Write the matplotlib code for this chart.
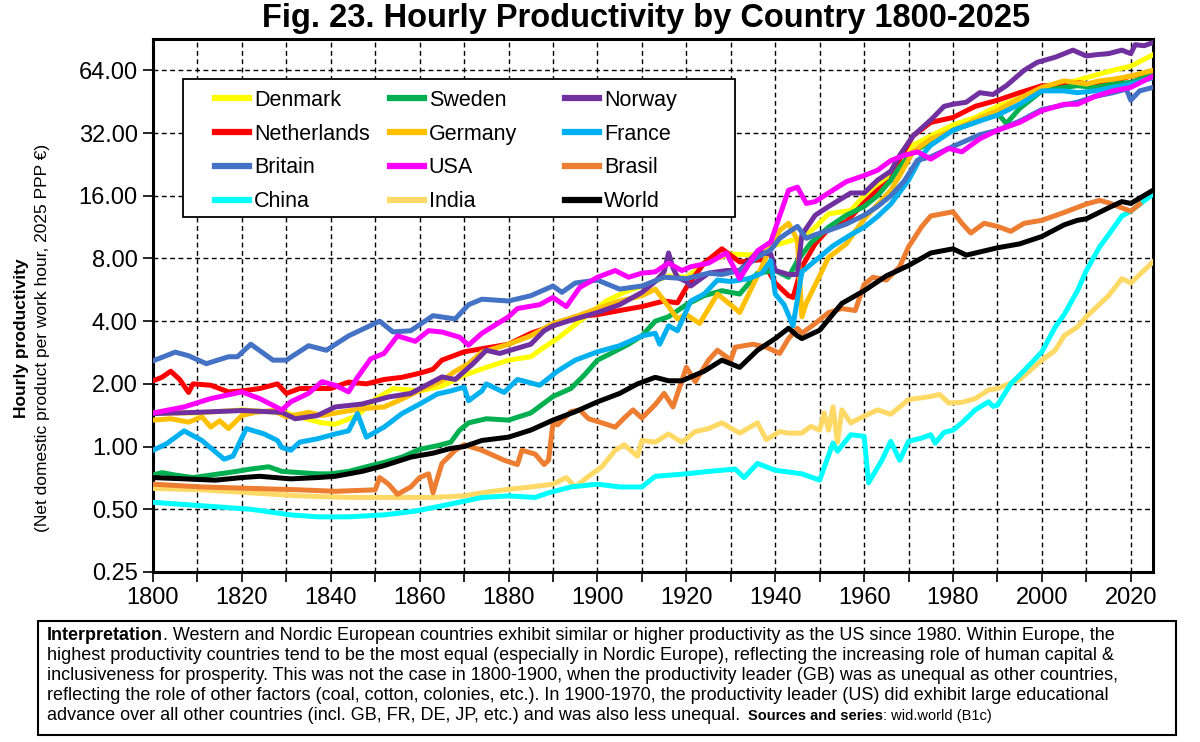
import matplotlib
matplotlib.use('Agg')
import matplotlib.pyplot as plt
from matplotlib.lines import Line2D
from matplotlib.legend import Legend
from matplotlib.patches import Rectangle
from matplotlib.ticker import NullLocator
from matplotlib import font_manager

plt.rcParams['font.family'] = ['Liberation Sans', 'DejaVu Sans']

# ---- data (hourly productivity, 2025 PPP euro) ----
denmark_yr = [1800,1810,1820,1830,1835,1838,1841,1846,1850,1854,1860,1865,1870,1875,1880,1885,1888,1891,1896,1902,1906,1912,1916,1920,1925,1930,1936,1939,1941,1944,1946,1949,1952,1957,1960,1963,1966,1968,1971,1975,1980,1985,1990,1995,2000,2005,2010,2016,2020,2025]
denmark = [1.45,1.45,1.5,1.45,1.35,1.3,1.28,1.41,1.69,1.9,1.85,1.95,2.2,2.4,2.6,2.7,3.0,3.3,4.0,5.0,5.5,6.1,6.6,6.5,7.8,8.4,8.3,9.2,9.4,9.8,10,11.3,13.1,13.6,16,17.8,20.5,23,28,31,35,38,43,47,52,55,59,64,67,76]

sweden_yr = [1800,1802,1805,1809,1813,1817,1822,1826,1829,1833,1837,1840,1844,1848,1852,1856,1860,1864,1867,1869,1871,1875,1880,1885,1890,1894,1897,1900,1903,1907,1910,1913,1916,1920,1924,1928,1932,1936,1940,1943,1945,1948,1952,1956,1960,1963,1966,1968,1971,1975,1980,1985,1990,1992,1995,2000,2005,2008,2012,2016,2020,2025]
sweden = [0.73,0.75,0.73,0.71,0.73,0.75,0.78,0.8,0.76,0.75,0.74,0.74,0.76,0.8,0.84,0.89,0.97,1.01,1.05,1.2,1.3,1.36,1.34,1.45,1.74,1.9,2.2,2.6,2.8,3.1,3.4,4.0,4.2,4.8,5.3,5.6,5.4,6.8,7.0,6.5,7.8,9.5,11.3,12.9,14.2,16,19,22,26,29,33,36,40,35.5,42,51,53,54,53,55,56,61]

norway_yr = [1800,1810,1820,1829,1832,1837,1841,1847,1853,1858,1865,1868,1872,1875,1878,1885,1888,1890,1895,1900,1905,1910,1913,1915,1916,1917,1918,1920,1921,1925,1929,1932,1936,1939,1940,1943,1945,1946,1949,1952,1957,1960,1963,1966,1968,1971,1975,1978,1980,1983,1986,1989,1992,1996,1999,2003,2007,2010,2012,2015,2018,2020,2021,2023,2025]
norway = [1.44,1.46,1.49,1.46,1.36,1.41,1.55,1.6,1.73,1.8,2.16,2.1,2.5,2.9,2.8,3.1,3.6,3.8,4.1,4.4,4.8,5.5,6.2,6.9,8.5,7.2,6.5,6.2,5.9,6.8,7.0,7.0,8.6,8.4,7.0,6.7,6.7,10.4,12.9,14.2,16.5,16.5,19,21,25,31,37,43,44,45,50,49,54,64,70,74,80,75,76,77,80,77,85,84,87]

netherlands_yr = [1800,1802,1804,1806,1808,1809,1813,1817,1820,1824,1828,1830,1833,1837,1840,1844,1848,1852,1856,1860,1863,1865,1870,1874,1880,1885,1890,1895,1900,1905,1910,1915,1918,1920,1924,1928,1932,1937,1940,1943,1944,1946,1949,1952,1956,1960,1963,1966,1968,1971,1975,1980,1985,1990,1995,2000,2005,2008,2012,2016,2020,2025]
netherlands = [2.07,2.15,2.3,2.1,1.82,2.0,1.97,1.83,1.85,1.9,2.0,1.8,1.9,1.9,1.9,2.04,2.0,2.1,2.15,2.25,2.35,2.6,2.85,2.95,3.1,3.5,3.8,4.2,4.3,4.5,4.7,5.0,4.9,5.8,7.6,8.9,7.7,7.9,6.1,5.3,5.2,7.3,9.4,11.1,12.0,14.8,17,19,24,31,36,38,43,46,50,54,54,56,54,57,60,63]

germany_yr = [1800,1804,1808,1811,1813,1815,1817,1820,1823,1827,1830,1835,1838,1842,1847,1852,1856,1860,1865,1868,1871,1874,1880,1885,1890,1895,1900,1905,1910,1913,1916,1918,1920,1923,1927,1931,1932,1936,1939,1941,1943,1945,1946,1947,1950,1952,1956,1960,1963,1966,1968,1971,1975,1980,1985,1990,1995,2000,2005,2010,2013,2016,2020,2025]
germany = [1.34,1.36,1.31,1.39,1.24,1.33,1.22,1.41,1.46,1.49,1.39,1.46,1.41,1.46,1.52,1.55,1.69,1.86,2.07,2.3,2.5,2.84,3.1,3.4,3.9,4.2,4.6,5.0,5.3,5.7,4.7,4.1,4.3,3.9,5.4,4.6,4.4,6.6,9.0,10.9,11.8,9.8,4.2,4.9,6.6,8.1,9.4,12.4,14.5,17,20,26,30,33,37,41,47,53,57,55,57,58,60,64]

france_yr = [1800,1803,1807,1811,1816,1818,1821,1825,1828,1829,1831,1833,1837,1841,1844,1846,1848,1852,1856,1860,1864,1867,1870,1871,1874,1875,1879,1882,1887,1891,1895,1900,1905,1910,1913,1914,1916,1918,1921,1924,1927,1930,1934,1937,1939,1940,1942,1944,1946,1949,1953,1957,1960,1963,1966,1970,1973,1975,1980,1985,1990,1995,2000,2005,2008,2012,2016,2020,2025]
france = [0.96,1.03,1.19,1.07,0.87,0.9,1.22,1.15,1.07,0.99,0.96,1.05,1.09,1.15,1.19,1.44,1.11,1.24,1.44,1.6,1.79,1.85,1.93,1.66,1.85,2.0,1.82,2.1,1.97,2.3,2.6,2.85,3.05,3.4,3.5,3.1,3.8,3.6,5.0,5.4,6.3,6.2,6.4,6.8,7.8,5.4,4.8,3.8,6.9,7.8,9.2,10.4,11.3,12.7,14.6,19,25,28,33,36,39,44,51,51,50,51,53,55,59]

britain_yr = [1800,1805,1808,1812,1817,1819,1822,1827,1830,1835,1839,1844,1851,1854,1858,1863,1868,1871,1874,1880,1885,1890,1892,1895,1900,1905,1910,1915,1920,1925,1928,1932,1936,1939,1941,1943,1945,1947,1949,1952,1956,1960,1963,1966,1969,1972,1975,1980,1986,1990,1995,2000,2008,2012,2016,2019,2020,2022,2025]
britain = [2.58,2.84,2.73,2.5,2.7,2.7,3.1,2.6,2.6,3.05,2.9,3.4,4.0,3.55,3.6,4.25,4.1,4.8,5.1,5.0,5.3,5.9,5.5,6.1,6.3,5.7,5.9,6.5,6.4,6.8,6.7,7.0,8.1,8.8,10,10.7,11.4,10,10.4,10.9,11.7,12.9,14.2,16,18.8,23.7,24.6,27.6,31.4,33,36.5,41.5,45,48,50,52,46,51,53]

usa_yr = [1800,1807,1813,1820,1824,1829,1831,1835,1838,1841,1844,1846,1849,1852,1855,1859,1862,1865,1869,1871,1874,1880,1882,1887,1890,1893,1896,1900,1904,1907,1910,1913,1916,1919,1921,1925,1929,1932,1936,1939,1941,1943,1945,1947,1949,1952,1956,1960,1963,1966,1969,1972,1975,1979,1982,1986,1990,1995,2000,2005,2008,2012,2016,2020,2025]
usa = [1.45,1.55,1.7,1.83,1.7,1.5,1.64,1.8,2.05,1.97,1.83,2.15,2.64,2.8,3.4,3.2,3.6,3.55,3.35,3.07,3.5,4.2,4.6,4.8,5.2,4.7,5.8,6.5,7.0,6.5,6.8,6.9,7.6,7.0,7.3,7.6,8.5,6.4,8.7,9.6,12.8,17,17.6,14.7,15.0,16.5,18.7,20,21.2,23.6,25,26,24,27,26,30,33,36,41,44,44,48,51,53,60]

brasil_yr = [1800,1811,1822,1833,1841,1850,1851,1853,1855,1858,1860,1862,1863,1865,1868,1870,1874,1879,1882,1883,1886,1888,1889,1890,1891,1894,1896,1898,1901,1904,1906,1908,1910,1913,1915,1917,1920,1922,1925,1927,1930,1931,1935,1938,1941,1943,1945,1946,1949,1952,1955,1958,1960,1962,1965,1968,1970,1973,1975,1980,1982,1984,1987,1990,1993,1996,2000,2005,2010,2013,2015,2018,2020,2022]
brasil = [0.66,0.64,0.63,0.62,0.61,0.62,0.71,0.66,0.59,0.64,0.71,0.74,0.6,0.83,0.96,1.02,0.96,0.86,0.82,0.96,0.92,0.82,0.86,1.3,1.27,1.47,1.5,1.36,1.3,1.24,1.37,1.5,1.37,1.59,1.8,1.55,2.4,2.05,2.6,2.9,2.6,3.0,3.1,3.0,2.8,3.3,3.7,3.5,3.9,4.4,4.6,4.5,6.0,6.5,6.3,7.3,9.1,11.4,12.8,13.4,11.8,10.6,11.8,11.4,10.8,11.8,12.2,13.3,14.6,15.2,14.8,14.0,13.5,14.6]

china_yr = [1800,1811,1822,1831,1837,1844,1852,1859,1867,1874,1880,1886,1889,1894,1900,1905,1910,1913,1920,1925,1931,1933,1936,1940,1946,1950,1953,1954,1957,1960,1961,1964,1966,1968,1970,1973,1975,1976,1978,1980,1982,1985,1988,1989,1990,1993,1995,2000,2003,2005,2008,2010,2013,2015,2018,2020,2025]
china = [0.54,0.52,0.5,0.47,0.46,0.46,0.47,0.49,0.53,0.57,0.58,0.57,0.6,0.64,0.66,0.64,0.64,0.72,0.74,0.76,0.78,0.71,0.83,0.77,0.74,0.69,1.04,0.95,1.14,1.12,0.67,0.86,1.06,0.86,1.06,1.1,1.14,1.04,1.17,1.2,1.3,1.5,1.64,1.56,1.58,2.0,2.2,2.85,3.75,4.3,5.6,7.0,9.1,10.4,12.8,13.5,16.3]

india_yr = [1800,1811,1822,1833,1844,1856,1863,1870,1874,1879,1885,1890,1893,1895,1898,1901,1904,1906,1909,1910,1913,1916,1919,1922,1925,1928,1932,1936,1938,1941,1943,1946,1948,1950,1951,1952,1953,1954,1955,1957,1960,1963,1966,1970,1975,1977,1979,1982,1985,1988,1990,1995,2000,2003,2005,2008,2010,2015,2018,2020,2025]
india = [0.63,0.62,0.6,0.58,0.57,0.57,0.57,0.58,0.6,0.62,0.64,0.66,0.71,0.64,0.72,0.8,0.96,1.02,0.9,1.07,1.05,1.15,1.05,1.18,1.22,1.3,1.16,1.3,1.08,1.18,1.16,1.16,1.25,1.2,1.45,1.2,1.55,1.05,1.5,1.3,1.4,1.5,1.43,1.68,1.74,1.78,1.62,1.63,1.7,1.87,1.9,2.1,2.6,2.9,3.4,3.75,4.2,5.3,6.4,6.1,7.7]

world_yr = [1800,1807,1814,1820,1824,1831,1837,1841,1847,1852,1858,1863,1867,1870,1874,1880,1885,1890,1895,1900,1905,1909,1913,1916,1919,1924,1928,1932,1936,1940,1943,1945,1946,1950,1955,1960,1965,1970,1975,1980,1983,1990,1995,2000,2005,2008,2010,2015,2018,2020,2025]
world = [0.71,0.7,0.69,0.71,0.72,0.7,0.71,0.72,0.76,0.81,0.89,0.93,0.98,1.0,1.07,1.11,1.2,1.34,1.47,1.64,1.8,2.0,2.15,2.07,2.07,2.3,2.6,2.4,2.9,3.3,3.7,3.4,3.3,3.62,4.87,5.6,6.6,7.4,8.5,8.9,8.3,9.0,9.4,10.2,11.6,12.2,12.4,14,15,14.7,17]

yticks = [0.25, 0.5, 1, 2, 4, 8, 16, 32, 64]

series = {
    'Denmark': (denmark_yr, denmark, '#FFFF00'),
    'Sweden': (sweden_yr, sweden, '#00B050'),
    'Norway': (norway_yr, norway, '#7030A0'),
    'Netherlands': (netherlands_yr, netherlands, '#FF0000'),
    'Germany': (germany_yr, germany, '#FFC000'),
    'France': (france_yr, france, '#00B0F0'),
    'Britain': (britain_yr, britain, '#4472C4'),
    'USA': (usa_yr, usa, '#FF00FF'),
    'Brasil': (brasil_yr, brasil, '#ED7D31'),
    'China': (china_yr, china, '#00FFFF'),
    'India': (india_yr, india, '#FFD966'),
    'World': (world_yr, world, '#000000'),
}
draw_order = ['India', 'China', 'Brasil', 'Denmark', 'Netherlands', 'Sweden', 'Germany',
              'Norway', 'France', 'Britain', 'USA', 'World']
legend_cols = [['Denmark', 'Netherlands', 'Britain', 'China'],
               ['Sweden', 'Germany', 'USA', 'India'],
               ['Norway', 'France', 'Brasil', 'World']]

W, H = 1200, 742
fig = plt.figure(figsize=(W / 100, H / 100), dpi=100)
ax = fig.add_axes([153 / W, 1 - 572 / H, 1000 / W, 533 / H])

for name in draw_order:
    yr, val, col = series[name]
    ax.plot(yr, val, color=col, lw=3.6, solid_joinstyle='round', zorder=3)

ax.set_yscale('log', base=2)
ax.set_xlim(1800, 2025)
ax.set_ylim(0.25, 90.5)
ax.set_yticks(yticks)
ax.set_yticklabels(['%.2f' % v for v in yticks])
ax.yaxis.set_minor_locator(NullLocator())
ax.set_xticks(range(1800, 2021, 20))
ax.set_xticks(range(1810, 2021, 20), minor=True)
dash = (0, (3.5, 2.5))
ax.grid(True, which='both', axis='x', color='black', lw=1.0, ls=dash, zorder=1)
ax.grid(True, which='major', axis='y', color='black', lw=1.0, ls=dash, zorder=1)
ax.set_axisbelow(True)
ax.tick_params(axis='both', which='both', direction='out', length=7, width=1.2, labelsize=17, pad=4)
for s in ax.spines.values():
    s.set_linewidth(2.2)

# legend: framed box with three equally spaced columns
box = Rectangle((0.030, 0.666), 0.552, 0.259, transform=ax.transAxes, facecolor='white',
                edgecolor='black', lw=1.3, zorder=4)
ax.add_patch(box)
col_x = [0.062, 0.237, 0.412]
for cx, names in zip(col_x, legend_cols):
    handles = [Line2D([], [], color=series[n][2], lw=4.5) for n in names]
    leg = Legend(ax, handles, names, loc='upper left', bbox_to_anchor=(cx, 0.905), frameon=False,
                 fontsize=15.5, handlelength=1.6, handletextpad=0.2, labelspacing=0.6,
                 borderpad=0, borderaxespad=0)
    leg.set_zorder(5)
    ax.add_artist(leg)

fig.text(646 / W, 1 - 18 / H, 'Fig. 23. Hourly Productivity by Country 1800-2025', ha='center', va='center',
         fontsize=23.5, fontweight='bold')
fig.text(22 / W, 1 - 338 / H, 'Hourly productivity', rotation=90, ha='center', va='center',
         fontsize=12.5, fontweight='bold')
fig.text(43 / W, 1 - 338 / H, '(Net domestic product per work hour, 2025 PPP \u20ac)', rotation=90,
         ha='center', va='center', fontsize=12.5)

# interpretation box
narrow = 'Liberation Sans'
try:
    font_manager.findfont('Liberation Sans Narrow', fallback_to_default=False)
    narrow = 'Liberation Sans Narrow'
except Exception:
    pass
fig.patches.append(Rectangle((38 / W, 1 - 735 / H), 1138 / W, 114 / H, transform=fig.transFigure,
                             facecolor='white', edgecolor='black', lw=1.5, figure=fig))

lines = [
    [('Interpretation', 'bold', 13, 0), ('. Western and Nordic European countries exhibit similar or higher productivity as the US since 1980. Within Europe, the', 'normal', 13, 0)],
    [('highest productivity countries tend to be the most equal (especially in Nordic Europe), reflecting the increasing role of human capital &', 'normal', 13, 0)],
    [('inclusiveness for prosperity. This was not the case in 1800-1900, when the productivity leader (GB) was as unequal as other countries,', 'normal', 13, 0)],
    [('reflecting the role of other factors (coal, cotton, colonies, etc.). In 1900-1970, the productivity leader (US) did exhibit large educational', 'normal', 13, 0)],
    [('advance over all other countries (incl. GB, FR, DE, JP, etc.) and was also less unequal.', 'normal', 13, 0),
     ('Sources and series', 'bold', 10.5, 8), (': wid.world (B1c)', 'normal', 10.5, 0)],
]
renderer = fig.canvas.get_renderer()
for i, parts in enumerate(lines):
    x = 47
    y = 640 + 20 * i
    for txt, wt, size, gap in parts:
        x += gap
        t = fig.text(x / W, 1 - y / H, txt, fontsize=size, fontweight=wt, family=[narrow, 'DejaVu Sans'],
                     ha='left', va='baseline')
        x += t.get_window_extent(renderer).width

fig.savefig('out.png', dpi=100)
